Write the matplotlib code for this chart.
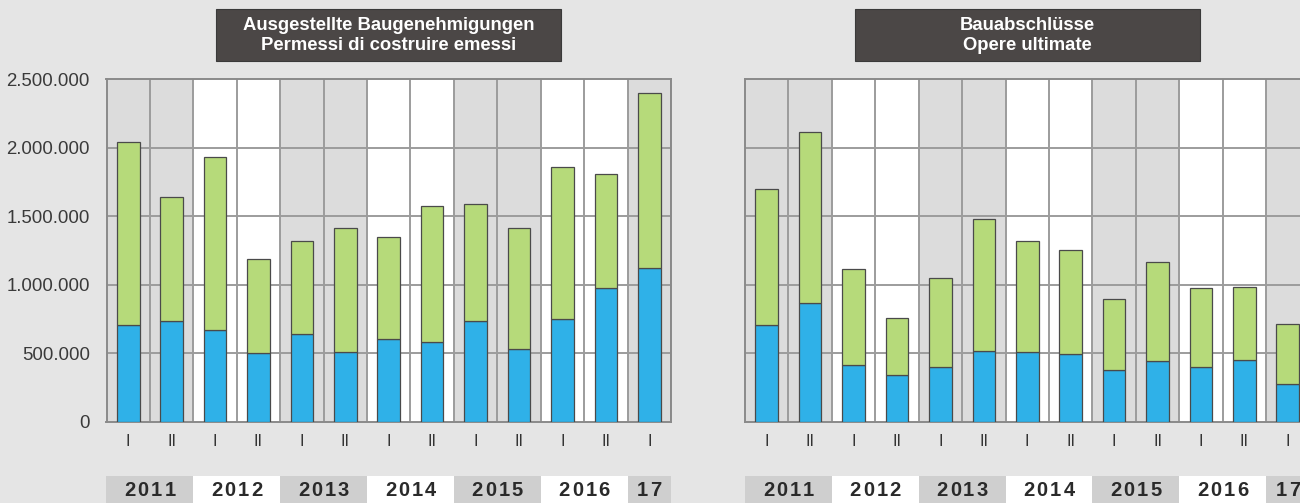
import matplotlib
matplotlib.use("Agg")
import matplotlib.pyplot as plt
from matplotlib.patches import Rectangle
from matplotlib.transforms import blended_transform_factory, offset_copy
from matplotlib.ticker import FuncFormatter

plt.rcParams['font.family'] = ['Liberation Sans', 'DejaVu Sans']

# half-years 2011-I ... 2017-I
quarters = ["I", "II"] * 6 + ["I"]
years = ["2011", "2012", "2013", "2014", "2015", "2016", "17"]
year_span = [2, 2, 2, 2, 2, 2, 1]

# Permessi di costruire emessi (m³)
perm_total = [2043000, 1642000, 1934000, 1186000, 1319000, 1412000, 1348000,
              1574000, 1591000, 1416000, 1856000, 1810000, 2400000]
perm_blue = [705000, 734000, 668000, 500000, 641000, 513000, 603000,
             581000, 739000, 530000, 751000, 974000, 1120000]

# Opere ultimate (m³)
done_total = [1698000, 2111000, 1113000, 756000, 1050000, 1480000, 1317000,
              1251000, 899000, 1164000, 974000, 982000, 712000]
done_blue = [705000, 870000, 418000, 345000, 401000, 520000, 508000,
             493000, 381000, 442000, 399000, 450000, 277000]

titles = ["Ausgestellte Baugenehmigungen\nPermessi di costruire emessi",
          "Bauabschlüsse\nOpere ultimate"]

BG = "#e5e5e5"
COL_GRAY = "#dcdcdc"
YEAR_GRAY = "#cfcfcf"
GRID = "#9c9c9c"
BLUE = "#2fb1e8"
GREEN = "#b6da7a"
TITLE_BG = "#4b4746"

W, H = 1300, 503
fig = plt.figure(figsize=(13, 5.03), dpi=100, facecolor=BG)

ax_left_px = [106.5, 745]
ax_w_px = 564.5
ax_top, ax_bot = 79, 422
char_step = 9.6  # letter spacing of the year labels, in points


def dots(v, pos):
    return f"{int(v):,}".replace(",", ".")


for i, (tot, blue) in enumerate([(perm_total, perm_blue), (done_total, done_blue)]):
    ax = fig.add_axes([ax_left_px[i] / W, 1 - ax_bot / H, ax_w_px / W, (ax_bot - ax_top) / H])
    ax.set_xlim(-0.5, len(tot) - 0.5)
    ax.set_ylim(0, 2500000)
    ax.set_facecolor("white")

    # column shading per year
    x0 = 0
    for k, span in enumerate(year_span):
        if k % 2 == 0:
            ax.axvspan(x0 - 0.5, x0 + span - 0.5, color=COL_GRAY, zorder=0, lw=0)
        x0 += span
    for xv in range(len(tot)):
        ax.axvline(xv + 0.5, color=GRID, lw=1.4, zorder=1)
    for yv in [500000, 1000000, 1500000, 2000000]:
        ax.axhline(yv, color=GRID, lw=1.4, zorder=1)

    xs = list(range(len(tot)))
    green = [t - b for t, b in zip(tot, blue)]
    ax.bar(xs, blue, width=0.52, color=BLUE, edgecolor="#4a4a4a", lw=0.9, zorder=3)
    ax.bar(xs, green, bottom=blue, width=0.52, color=GREEN, edgecolor="#4a4a4a", lw=0.9, zorder=3)

    for s in ax.spines.values():
        s.set_color("#8a8a8a")
        s.set_linewidth(1.4)

    ax.set_xticks(xs)
    ax.set_xticklabels(quarters, fontsize=11.5, color="#333333")
    ax.tick_params(axis="x", length=0, pad=9)
    ax.set_yticks([0, 500000, 1000000, 1500000, 2000000, 2500000])
    if i == 0:
        ax.yaxis.set_major_formatter(FuncFormatter(dots))
        ax.tick_params(axis="y", length=0, pad=12, labelsize=13.4, labelcolor="#3a3a3a")
    else:
        ax.tick_params(axis="y", length=0, labelleft=False)

    # year boxes under the axis, letter-spaced labels
    tr = blended_transform_factory(ax.transData, ax.transAxes)
    x0 = 0
    for k, (yr, span) in enumerate(zip(years, year_span)):
        fc = YEAR_GRAY if k % 2 == 0 else "white"
        ax.add_patch(Rectangle((x0 - 0.5, -0.26), span, 0.103, transform=tr,
                               facecolor=fc, edgecolor="none", clip_on=False))
        n = len(yr)
        for j, ch in enumerate(yr):
            t = offset_copy(tr, fig=fig, x=(j - (n - 1) / 2) * char_step, units="points")
            ax.text(x0 - 0.5 + span / 2, -0.201, ch, transform=t,
                    ha="center", va="center", fontsize=14.5, fontweight="bold", color="#2a2a2a")
        x0 += span

    # title box
    cx = (ax_left_px[i] + ax_w_px / 2) / W
    bw, bh = 345 / W, 52 / H
    fig.patches.append(Rectangle((cx - bw / 2, 1 - 61 / H), bw, bh, transform=fig.transFigure,
                                 facecolor=TITLE_BG, edgecolor="#3a3a3a", lw=0.8))
    fig.text(cx, 1 - 35.5 / H, titles[i], ha="center", va="center", color="white",
             fontsize=13.3, fontweight="bold", linespacing=1.3)

fig.savefig("out.png", dpi=100, facecolor=BG)
